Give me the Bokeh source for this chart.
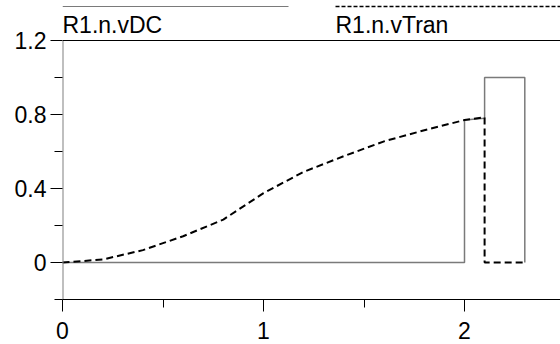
from bokeh.plotting import figure
from bokeh.models import Range1d, FixedTicker, Span
from bokeh.core.properties import value
from bokeh.embed import file_html
from bokeh.resources import INLINE

# ---- data ----
t_tran = [0.0, 0.2, 0.4, 0.6, 0.8, 1.0, 1.2, 1.4, 1.6, 1.8, 2.0, 2.1, 2.1, 2.3]
v_tran = [0.0, 0.016, 0.067, 0.142, 0.232, 0.375, 0.49, 0.575, 0.655, 0.715, 0.77, 0.785, 0.0, 0.0]
t_dc = [0.0, 2.0, 2.0, 2.1, 2.1, 2.3, 2.3]
v_dc = [0.0, 0.0, 0.77, 0.78, 1.0, 1.0, 0.0]

series_names = ["R1.n.vDC", "R1.n.vTran"]
x_ticks = [0, 1, 2]
x_minor = [0.5, 1.5]
y_ticks = [0, 0.4, 0.8, 1.2]
y_minor = [-0.2, 0.2, 0.6, 1.0]
y_bottom, y_top = -0.2, 1.2

FONT = "Liberation Sans"
DC_COLOR = "#7a7a7a"
TRAN_COLOR = "black"

W, H = 560, 344
BL, BB = 62, 45
PX_PER_X = 201.0
PX_PER_Y = 185.0
frame_w = W - BL
frame_h = H - BB
x_end = frame_w / PX_PER_X
y_end = y_bottom + frame_h / PX_PER_Y

p = figure(width=W, height=H, x_range=Range1d(0, x_end), y_range=Range1d(y_bottom, y_end),
           toolbar_location=None, output_backend="svg",
           min_border_left=BL, min_border_right=0, min_border_top=0, min_border_bottom=BB,
           outline_line_color=None)
p.grid.visible = False

# data lines
p.line(t_dc, v_dc, line_color=DC_COLOR, line_width=1.5)
p.line(t_tran, v_tran, line_color=TRAN_COLOR, line_width=2, line_dash="7 4")

# plot box: top border line at 1.2 and y-axis line from bottom to 1.2
p.add_layout(Span(location=y_top, dimension="width", line_color="black", line_width=1))
p.segment(x0=[0], y0=[y_bottom], x1=[0], y1=[y_top], line_color="#808080", line_width=2)

# legend strip above the plot box (pixel offsets converted to data units)
leg_line_y = y_end - 6.0 / PX_PER_Y
leg_text_y = y_end - 24.0 / PX_PER_Y
leg_x0 = [0.0, 273.0 / PX_PER_X]
leg_x1 = [226.0 / PX_PER_X, x_end]
p.line([leg_x0[0], leg_x1[0]], [leg_line_y, leg_line_y], line_color=DC_COLOR, line_width=1.2)
p.line([leg_x0[1], leg_x1[1]], [leg_line_y, leg_line_y], line_color=TRAN_COLOR,
       line_width=1.3, line_dash="4 2")
p.text(x=leg_x0, y=[leg_text_y, leg_text_y], text=series_names, text_font=value(FONT),
       text_font_size="23px", text_color="black", text_baseline="alphabetic",
       text_align="left", x_offset=0)

# axes
p.xaxis.ticker = FixedTicker(ticks=x_ticks, minor_ticks=x_minor)
p.yaxis.ticker = FixedTicker(ticks=y_ticks, minor_ticks=y_minor)
p.yaxis.major_label_overrides = {0: "0", 0.4: "0.4", 0.8: "0.8", 1.2: "1.2"}
p.xaxis.major_label_overrides = {0: "0", 1: "1", 2: "2"}

for ax in (p.xaxis, p.yaxis):
    ax.major_tick_out = 12
    ax.major_tick_in = 0
    ax.minor_tick_out = 8
    ax.minor_tick_in = 0
    ax.major_tick_line_color = "black"
    ax.minor_tick_line_color = "black"
    ax.major_label_text_font = FONT
    ax.major_label_text_font_size = "23px"
    ax.major_label_text_color = "black"

p.xaxis.axis_line_color = "black"
p.yaxis.axis_line_color = None
p.xaxis.major_label_standoff = 10
p.yaxis.major_label_standoff = 4

open("out.html", "w").write(file_html(p, INLINE))
